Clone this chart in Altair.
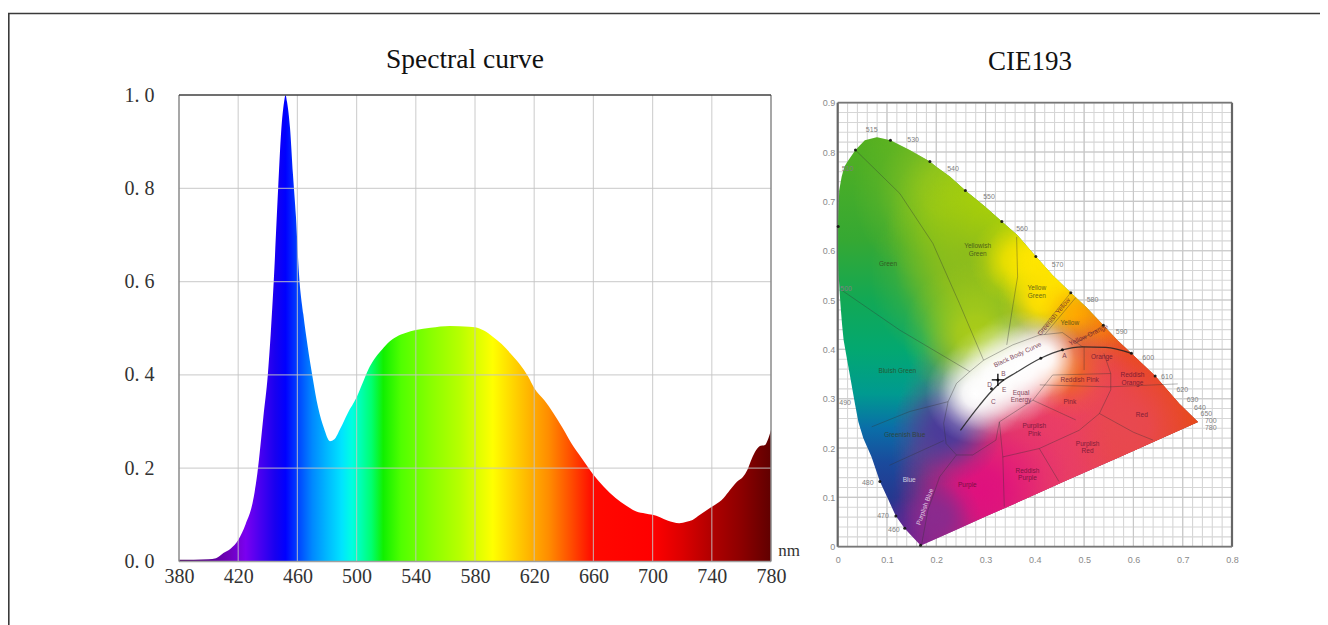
import altair as alt
import pandas as pd

# ---------- left panel: spectrum ----------
wave = [380,390,400,405,410,415,420,425,430,433,437,440,442,444,447,449,451,452,453,455,457,459,461,464,467,470,474,478,482,485,489,494,500,504,508,512,516,521,527,533,540,550,563,576,580,586,592,598,604,610,616,620,627,633,639,645,652,660,667,675,682,689,695,700,705,710,714,718,723,727,732,737,742,748,752,757,761,764,767,770,773,776,778,780]
power = [.004,.004,.005,.007,.018,.028,.046,.08,.13,.19,.31,.40,.49,.60,.80,.92,.985,1.0,.985,.93,.83,.74,.62,.53,.46,.40,.33,.285,.258,.262,.285,.318,.352,.382,.412,.434,.450,.468,.482,.490,.496,.501,.505,.503,.502,.495,.482,.466,.446,.424,.396,.372,.345,.318,.287,.254,.222,.186,.160,.136,.120,.107,.103,.100,.095,.088,.084,.082,.085,.089,.100,.111,.121,.136,.152,.171,.181,.196,.220,.239,.248,.250,.262,.282]
grad_wave = [380,400,415,425,435,445,452,460,470,480,490,497,503,510,518,530,550,570,585,592,610,630,645,660,700,720,740,760,780]
grad_col = ["#4a0060","#5a0090","#7000c0","#7a00f0","#4800f0","#1800f0","#0000ff","#0040ff","#0088ff","#00b8ff","#00e4ff","#00ffe0","#00ffb0","#00ff70","#10f000","#50ff00","#88ff00","#b8ff00","#e8ff00","#ffff00","#ffc800","#ff8c00","#ff4c00","#ff0800","#ff0000","#dc0000","#b00000","#8c0000","#600000"]
x_ticks = [380,420,460,500,540,580,620,660,700,740,780]
y_ticks = [0.0,0.2,0.4,0.6,0.8,1.0]

# ---------- right panel: chromaticity diagram ----------
locus_y = [.003,.037,.062,.1,.132,.182,.22,.253,.29,.346,.385,.419,.449,.486,.515,.55,.588,.63,.659,.69,.722,.75,.77,.781,.804,.824,.83]
locus_l = [.168,.136,.118,.1005,.0856,.0687,.052,.042,.035,.025,.018,.012,.009,.006,.004,.002,.001,.001,.001,.002,.003,.008,.0135,.02,.036,.055,.079]
locus_r = [.170,.246,.302,.388,.459,.572,.657,.731,.693,.644,.603,.567,.539,.504,.473,.436,.402,.366,.333,.298,.259,.228,.200,.187,.146,.107,.08]

base_y = [.83,.62,.50,.40,.31,.24,.17,.10,.05,.003]
base_c = ["#55b020","#35a833","#12a855","#03a870","#009a90","#0a6ea8","#1a4a9c","#25388f","#4a2a92","#7a2390"]
blob_x = [.48,.48,.24,.33,.28,.29,.36,.40,.44,.41,.47,.53,.60,.66,.72,.60,.48,.56,.38,.30,.22,.45,.24,.29,.33,.37,.41]
blob_y = [.20,.20,.72,.64,.55,.43,.58,.58,.53,.50,.47,.45,.38,.32,.26,.28,.30,.24,.17,.11,.06,.36,.24,.31,.34,.365,.385]
blob_r = [.34,.34,.17,.20,.18,.13,.08,.09,.10,.08,.07,.09,.13,.20,.12,.16,.15,.16,.16,.16,.08,.09,.10,.09,.10,.10,.075]
blob_c = ["#e8405f","#e8405f","#8fc31f","#b5d600","#8cbc1c","#aacc18","#e0dc00","#ffe600","#ffe600","#ffe000","#ffb000","#ff9000","#ee5510","#e8440f","#e84a0c","#e84a14","#ee3f68","#e84850","#e83a6a","#e0107e","#8a2a8e","#ee6a20","#4a3a9a","#ffffff","#ffffff","#ffffff","#ffffff"]

cie_x_ticks = [0,.1,.2,.3,.4,.5,.6,.7,.8]
cie_y_ticks = [0,.1,.2,.3,.4,.5,.6,.7,.8,.9]
fine_x = [i/50 for i in range(41)]
fine_y = [i/50 for i in range(46)]

curves = {
 "a": ([.036,.126,.193,.247,.296], [.804,.716,.615,.493,.378]),
 "b": ([.363,.365,.355,.343], [.628,.547,.486,.409]),
 "c": ([.008,.126,.268], [.520,.439,.355]),
 "d": ([.268,.296,.355,.409,.456,.497], [.355,.378,.409,.429,.434,.405]),
 "e": ([.268,.241,.224,.215,.220,.241,.274,.321,.328], [.355,.331,.294,.25,.209,.186,.186,.216,.253]),
 "f": ([.069,.146,.224], [.243,.274,.294]),
 "g": ([.170,.183,.207,.241], [.003,.074,.142,.186]),
 "h": ([.105,.16,.215], [.165,.19,.215]),
 "i": ([.328,.335,.338], [.253,.182,.081]),
 "j": ([.335,.409,.49,.531,.554,.554,.54], [.182,.199,.236,.27,.318,.351,.392]),
 "k": ([.409,.449], [.199,.132]),
 "l": ([.531,.60,.64], [.27,.232,.216]),
 "m": ([.328,.396,.483], [.253,.297,.257]),
 "n": ([.436,.396], [.348,.297]),
 "o": ([.436,.554], [.348,.351]),
 "p": ([.41,.55,.69], [.328,.324,.33]),
 "q": ([.5,.5], [.405,.358]),
 "r": ([.473,.406], [.515,.432]),
 "s": ([.483,.42], [.505,.43]),
 "t": ([.539,.483], [.449,.412]),
}
body_x = [.249,.288,.311,.328,.362,.412,.456,.497,.544,.596]
body_y = [.236,.287,.314,.331,.353,.382,.399,.405,.404,.392]
dot_x = [.168,.136,.118,.0856,.001,.036,.107,.187,.259,.333,.402,.473,.539,.596,.644,.312,.325,.412,.456]
dot_y = [.003,.0372,.0622,.132,.649,.804,.824,.781,.722,.659,.588,.515,.449,.392,.346,.32,.338,.382,.399]

wave_names = ["515","530","540","550","560","570","580","590","600","610","620","630","640","650","700","780","510","500","490","480","470","460"]
wave_nx = [.069,.153,.234,.307,.374,.446,.517,.576,.63,.668,.699,.72,.735,.748,.757,.757,.02,.017,.015,.061,.092,.114]
wave_ny = [.845,.824,.766,.709,.643,.571,.5,.436,.382,.343,.318,.297,.282,.269,.255,.241,.765,.522,.291,.13,.062,.034]

region_names = ["Green","Yellowish","Green","Yellow","Green","Yellow","Bluish Green","Greenish Blue","Blue","Purplish Blue","Purple","Reddish","Purple","Purplish","Pink","Pink","Reddish Pink","Purplish","Red","Red","Reddish","Orange","Orange","Black Body Curve","Greenish Yellow","Yellow Orange","Equal","Energy","A","B","C","D","E"]
region_x = [.102,.284,.284,.404,.404,.471,.121,.136,.145,.177,.263,.385,.385,.399,.399,.471,.491,.507,.507,.617,.598,.598,.536,.365,.439,.509,.372,.372,.46,.336,.316,.308,.338]
region_y = [.573,.609,.593,.524,.508,.453,.357,.226,.135,.081,.125,.153,.139,.245,.228,.294,.338,.209,.193,.267,.348,.331,.385,.389,.466,.429,.312,.297,.387,.351,.294,.328,.318]
region_angle = [0,0,0,0,0,0,0,0,0,290,0,0,0,0,0,0,0,0,0,0,0,0,0,335,310,335,0,0,0,0,0,0,0]
region_color = ["#33401a"]*8 + ["#ffffff","#ffffff"] + ["#5a1030"]*23

SERIF = "Liberation Serif"

# ---------- scales ----------
lx = alt.Scale(domain=[380,780], range=[171,763], nice=False, zero=False)
ly = alt.Scale(domain=[0,1], range=[553.5,87], nice=False, zero=False)
rx = alt.Scale(domain=[0,.8], range=[829.7,1224], nice=False, zero=False)
ry = alt.Scale(domain=[0,.9], range=[538.7,94.7], nice=False, zero=False)

# ---------- left layers ----------
spec = pd.DataFrame({"w":wave,"p":power})
stops = [{"color":c, "offset":(w-380)/400} for w,c in zip(grad_wave,grad_col)]
area = alt.Chart(spec).mark_area(
    interpolate="monotone",
    color={"gradient":"linear", "stops":stops, "x1":0, "x2":1, "y1":0, "y2":0},
).encode(
    x=alt.X("w:Q", scale=lx, title=None, axis=alt.Axis(
        orient="bottom", offset=-63.5, values=x_ticks, domain=False, ticks=False, grid=False,
        labelFont=SERIF, labelFontSize=20, labelColor="#333333", labelPadding=5, labelOverlap=False,
        labelFlush=False, format="d")),
    y=alt.Y("p:Q", scale=ly, title=None, axis=alt.Axis(
        orient="left", offset=-171, values=y_ticks, domain=False, ticks=False, grid=False,
        labelFont=SERIF, labelFontSize=20, labelColor="#333333", labelPadding=25, labelOverlap=False,
        labelFlush=False, labelExpr="replace(format(datum.value,'.1f'),'.','. ')")),
)
vgrid = alt.Chart(pd.DataFrame({"x":x_ticks[1:-1],"a":0,"b":1})).mark_rule(color="#c4c4c4", strokeWidth=1.2, opacity=.75).encode(
    x=alt.X("x:Q", scale=lx, axis=None),
    y=alt.Y("a:Q", scale=ly, axis=None), y2="b:Q")
hgrid = alt.Chart(pd.DataFrame({"y":y_ticks[1:-1],"a":380,"b":780})).mark_rule(color="#c4c4c4", strokeWidth=1.2, opacity=.75).encode(
    y=alt.Y("y:Q", scale=ly, axis=None),
    x=alt.X("a:Q", scale=lx, axis=None), x2="b:Q")
side = alt.Chart(pd.DataFrame({"x":[380,780],"a":0,"b":1})).mark_rule(color="#8a8a8a", strokeWidth=1.5).encode(
    x=alt.X("x:Q", scale=lx, axis=None),
    y=alt.Y("a:Q", scale=ly, axis=None), y2="b:Q")
bottom = alt.Chart(pd.DataFrame({"y":[0],"a":380,"b":780})).mark_rule(color="#a0a0a0", strokeWidth=1.5).encode(
    y=alt.Y("y:Q", scale=ly, axis=None),
    x=alt.X("a:Q", scale=lx, axis=None), x2="b:Q")
top = alt.Chart(pd.DataFrame({"y":[1],"a":380,"b":780})).mark_rule(color="#404040", strokeWidth=1.5).encode(
    y=alt.Y("y:Q", scale=ly, axis=None),
    x=alt.X("a:Q", scale=lx, axis=None), x2="b:Q")
left = [area, vgrid, hgrid, bottom, side, top]

# ---------- right layers ----------
minor_x = alt.Chart(pd.DataFrame({"x":fine_x,"a":0,"b":.9})).mark_rule(color="#d6d6d6", strokeWidth=1.1).encode(
    x=alt.X("x:Q", scale=rx, title=None, axis=alt.Axis(
        orient="bottom", offset=-78.3, values=cie_x_ticks, domain=False, ticks=False, grid=False,
        labelFont="Liberation Sans", labelFontSize=9, labelColor="#8a8a8a", labelPadding=9, labelOverlap=False,
        labelFlush=False, labelExpr="datum.value==0?'0':format(datum.value,'.1f')")),
    y=alt.Y("a:Q", scale=ry, title=None, axis=alt.Axis(
        orient="left", offset=-829.7, values=cie_y_ticks, domain=False, ticks=False, grid=False,
        labelFont="Liberation Sans", labelFontSize=9, labelColor="#8a8a8a", labelPadding=3, labelOverlap=False,
        labelFlush=False, labelExpr="datum.value==0?'0':format(datum.value,'.1f')")),
    y2="b:Q")
minor_y = alt.Chart(pd.DataFrame({"y":fine_y,"a":0,"b":.8})).mark_rule(color="#d6d6d6", strokeWidth=1.1).encode(
    y=alt.Y("y:Q", scale=ry, axis=None),
    x=alt.X("a:Q", scale=rx, axis=None), x2="b:Q")
major_x = alt.Chart(pd.DataFrame({"x":cie_x_ticks,"a":0,"b":.9})).mark_rule(color="#c8c8c8", strokeWidth=1.1).encode(
    x=alt.X("x:Q", scale=rx, axis=None),
    y=alt.Y("a:Q", scale=ry, axis=None), y2="b:Q")
major_y = alt.Chart(pd.DataFrame({"y":cie_y_ticks,"a":0,"b":.8})).mark_rule(color="#c8c8c8", strokeWidth=1.1).encode(
    y=alt.Y("y:Q", scale=ry, axis=None),
    x=alt.X("a:Q", scale=rx, axis=None), x2="b:Q")
box_v = alt.Chart(pd.DataFrame({"x":[0,.8],"a":0,"b":.9})).mark_rule(color="#666666", strokeWidth=2.2).encode(
    x=alt.X("x:Q", scale=rx, axis=None),
    y=alt.Y("a:Q", scale=ry, axis=None), y2="b:Q")
box_h = alt.Chart(pd.DataFrame({"y":[0,.9],"a":0,"b":.8})).mark_rule(color="#777777", strokeWidth=1.8).encode(
    y=alt.Y("y:Q", scale=ry, axis=None),
    x=alt.X("a:Q", scale=rx, axis=None), x2="b:Q")

locus = pd.DataFrame({"y":locus_y,"l":locus_l,"r":locus_r})
X0, X1 = min(locus_l), max(locus_r)
Y0, Y1 = min(locus_y), max(locus_y)

def shape(fill):
    return alt.Chart(locus).mark_area(orient="horizontal", color=fill).encode(
        y=alt.Y("y:Q", scale=ry, axis=None),
        x=alt.X("l:Q", scale=rx, axis=None),
        x2="r:Q")

def rgba(c, a):
    return "rgba(%d,%d,%d,%.3f)" % (int(c[1:3],16), int(c[3:5],16), int(c[5:7],16), a)

base_stops = [{"color":c, "offset":(Y1-y)/(Y1-Y0)} for y,c in zip(base_y,base_c)]
fills = [shape({"gradient":"linear", "stops":base_stops, "x1":0, "x2":0, "y1":0, "y2":1})]
for x,y,r,c in zip(blob_x,blob_y,blob_r,blob_c):
    ux = (x-X0)/(X1-X0); uy = (Y1-y)/(Y1-Y0); ur = r/(X1-X0)
    fills.append(shape({"gradient":"radial",
        "stops":[{"color":rgba(c,1), "offset":0},
                 {"color":rgba(c,.9), "offset":.25},
                 {"color":rgba(c,.55), "offset":.5},
                 {"color":rgba(c,.18), "offset":.75},
                 {"color":rgba(c,0), "offset":1}],
        "x1":ux, "y1":uy, "r1":0, "x2":ux, "y2":uy, "r2":ur}))

rows = []
for k,(xs,ys) in curves.items():
    for i,(a,b) in enumerate(zip(xs,ys)):
        rows.append({"k":k,"i":i,"x":a,"y":b})
bounds = alt.Chart(pd.DataFrame(rows)).mark_line(color="#333333", strokeWidth=.8, opacity=.45).encode(
    x=alt.X("x:Q", scale=rx, axis=None), y=alt.Y("y:Q", scale=ry, axis=None),
    detail="k:N", order="i:Q")
body = alt.Chart(pd.DataFrame({"x":body_x,"y":body_y})).mark_line(color="#222222", strokeWidth=1.3, interpolate="monotone", opacity=.85).encode(
    x=alt.X("x:Q", scale=rx, axis=None), y=alt.Y("y:Q", scale=ry, axis=None))
dots = alt.Chart(pd.DataFrame({"x":dot_x,"y":dot_y})).mark_circle(color="#111111", size=9, opacity=.9).encode(
    x=alt.X("x:Q", scale=rx, axis=None), y=alt.Y("y:Q", scale=ry, axis=None))
cross = alt.Chart(pd.DataFrame({"x":[.325],"y":[.338]})).mark_point(
    shape="M-1,0L1,0M0,-1L0,1", size=150, color="#000000", strokeWidth=1.3, filled=False, opacity=1).encode(
    x=alt.X("x:Q", scale=rx, axis=None), y=alt.Y("y:Q", scale=ry, axis=None))
wl = alt.Chart(pd.DataFrame({"t":wave_names,"x":wave_nx,"y":wave_ny})).mark_text(
    font="Liberation Sans", fontSize=7, color="#808080").encode(
    x=alt.X("x:Q", scale=rx, axis=None), y=alt.Y("y:Q", scale=ry, axis=None), text="t:N")
rg = alt.Chart(pd.DataFrame({"t":region_names,"x":region_x,"y":region_y,"a":region_angle,"c":region_color})).mark_text(
    font="Liberation Sans", fontSize=6.5, opacity=.75).encode(
    x=alt.X("x:Q", scale=rx, axis=None), y=alt.Y("y:Q", scale=ry, axis=None), text="t:N",
    angle=alt.Angle("a:Q", scale=None), color=alt.Color("c:N", scale=None))
right = [minor_x, minor_y, major_x, major_y, box_v, box_h, *fills, bounds, body, dots, cross, wl, rg]

# ---------- page furniture ----------
one = pd.DataFrame({"k":[0]})
frame_top = alt.Chart(one).mark_rule(color="#3a3a3a", strokeWidth=1.6).encode(
    x=alt.value(0), x2=alt.value(1312), y=alt.value(5.5))
frame_left = alt.Chart(one).mark_rule(color="#3a3a3a", strokeWidth=1.6).encode(
    y=alt.value(5), y2=alt.value(617), x=alt.value(0.8))
t1 = alt.Chart(pd.DataFrame({"t":["Spectral curve"]})).mark_text(font=SERIF, fontSize=27.5, color="#111111").encode(
    x=alt.value(457), y=alt.value(52), text="t:N")
t2 = alt.Chart(pd.DataFrame({"t":["CIE193"]})).mark_text(font=SERIF, fontSize=27, color="#111111").encode(
    x=alt.value(1022), y=alt.value(54), text="t:N")
nm = alt.Chart(pd.DataFrame({"t":["nm"]})).mark_text(font=SERIF, fontSize=17, color="#333333").encode(
    x=alt.value(781), y=alt.value(543), text="t:N")
furniture = [frame_top, frame_left, t1, t2, nm]

chart = alt.layer(*furniture, *left, *right).resolve_scale(x="independent", y="independent").properties(
    width=1312, height=617, padding=0, autosize=alt.AutoSizeParams(type="none"), background="#ffffff"
).configure_view(stroke=None)

chart.save("out.html", embed_options={"renderer": "svg", "actions": False})
